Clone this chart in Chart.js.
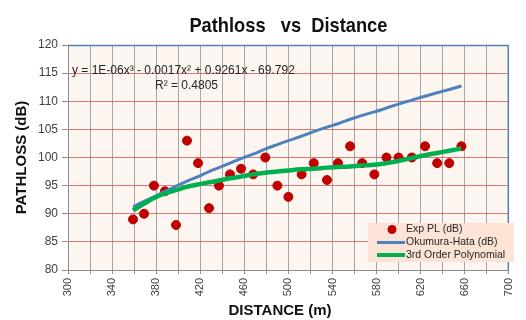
<!DOCTYPE html>
<html>
<head>
<meta charset="utf-8">
<script src="https://cdn.jsdelivr.net/npm/chart.js@4/dist/chart.umd.min.js"></script>
<style>
html,body{margin:0;padding:0;background:#fff;}
#wrap{width:526px;height:320px;position:relative;}
</style>
</head>
<body>
<div id="wrap"><canvas id="c" width="526" height="320"></canvas></div>
<script>
// Distance (m) of each measurement
const distances = [359, 369, 378, 388, 398, 408, 418, 428, 437, 447, 457, 468, 479, 490, 500, 512, 523, 535, 545, 556, 567, 578, 589, 600, 612, 624, 635, 646, 657];
// Measured path loss (dB)
const expPL = [89, 90, 95, 94, 88, 103, 99, 91, 95, 97, 98, 97, 100, 95, 93, 97, 99, 96, 99, 102, 99, 97, 100, 100, 100, 102, 99, 99, 102];
// Okumura-Hata model (dB)
const okumuraHata = [91.2, 92.2, 93.0, 94.0, 94.9, 95.8, 96.6, 97.5, 98.2, 99.0, 99.8, 100.6, 101.5, 102.3, 103.0, 103.8, 104.6, 105.4, 106.0, 106.8, 107.5, 108.1, 108.8, 109.5, 110.2, 110.9, 111.5, 112.1, 112.7];
// 3rd order polynomial trendline (dB)
const poly3 = [90.6, 91.8, 92.8, 93.6, 94.2, 94.8, 95.2, 95.6, 95.9, 96.3, 96.6, 97.0, 97.3, 97.5, 97.7, 97.9, 98.0, 98.2, 98.3, 98.4, 98.6, 98.7, 99.0, 99.4, 99.9, 100.4, 100.8, 101.2, 101.6];
// Axis settings
const xTickValues = [300, 340, 380, 420, 460, 500, 540, 580, 620, 660, 700];
const yTickValues = [80, 85, 90, 95, 100, 105, 110, 115, 120];
const seriesNames = ['Exp PL (dB)', 'Okumura-Hata (dB)', '3rd Order Polynomial'];
const titleText = 'Pathloss   vs  Distance';
const xTitle = 'DISTANCE (m)';
const yTitle = 'PATHLOSS (dB)';
const equationText = 'y = 1E-06x\u00B3 - 0.0017x\u00B2 + 0.9261x - 69.792';
const r2Text = 'R\u00B2 = 0.4805';

const FONT = "'Liberation Sans', Arial, sans-serif";
const RED = '#c00000', BLUE = '#4f81bd', GREEN = '#00b050';

const toPts = (ys) => distances.map((d, i) => ({x: d, y: ys[i]}));

const decor = {
  id: 'decor',
  beforeDraw(chart) {
    const {ctx, chartArea: a} = chart;
    ctx.save();
    ctx.fillStyle = '#fdf5ef';
    ctx.fillRect(a.left, a.top, a.right - a.left, a.bottom - a.top);
    ctx.restore();
  },
  afterDatasetsDraw(chart) {
    const {ctx, chartArea: a} = chart;
    ctx.save();
    // plot border top/right
    ctx.strokeStyle = BLUE;
    ctx.lineWidth = 1.5;
    ctx.beginPath();
    ctx.moveTo(a.left, a.top + 0.5);
    ctx.lineTo(a.right - 0.5, a.top + 0.5);
    ctx.lineTo(a.right - 0.5, a.bottom);
    ctx.stroke();
    // chart title, centred over the plot area (slightly condensed like the original)
    ctx.save();
    ctx.fillStyle = '#111';
    ctx.font = 'bold 21px ' + FONT;
    ctx.textAlign = 'center';
    ctx.textBaseline = 'middle';
    ctx.translate((a.left + a.right) / 2, 26);
    ctx.scale(0.87, 1);
    ctx.fillText(titleText, 0, 0);
    ctx.restore();
    // equation
    ctx.fillStyle = '#262626';
    ctx.font = '12px ' + FONT;
    ctx.textBaseline = 'middle';
    ctx.textAlign = 'left';
    ctx.fillText(equationText, 72, 71);
    ctx.fillText(r2Text, 155, 86);
    // legend
    const lx = 368, ly = 223, lw = 146, lh = 39;
    ctx.fillStyle = '#fbe4d5';
    ctx.fillRect(lx, ly, lw, lh);
    ctx.fillStyle = RED;
    ctx.beginPath();
    ctx.arc(392, 229.5, 4.5, 0, Math.PI * 2);
    ctx.fill();
    ctx.lineWidth = 3;
    ctx.strokeStyle = BLUE;
    ctx.beginPath(); ctx.moveTo(377, 242.5); ctx.lineTo(405, 242.5); ctx.stroke();
    ctx.lineWidth = 4;
    ctx.strokeStyle = GREEN;
    ctx.beginPath(); ctx.moveTo(377, 255); ctx.lineTo(405, 255); ctx.stroke();
    ctx.fillStyle = '#262626';
    ctx.font = '10.5px ' + FONT;
    ctx.fillText(seriesNames[0], 406, 229.5);
    ctx.fillText(seriesNames[1], 406, 242.5);
    ctx.fillText(seriesNames[2], 406, 255.5);
    ctx.restore();
  }
};

new Chart(document.getElementById('c'), {
  type: 'scatter',
  data: {
    datasets: [
      {label: seriesNames[0], data: toPts(expPL), backgroundColor: RED, borderColor: RED,
       pointRadius: 4.5, pointHoverRadius: 4.5, showLine: false, order: 3},
      {label: seriesNames[1], data: toPts(okumuraHata), borderColor: BLUE, backgroundColor: BLUE,
       borderWidth: 3, pointRadius: 0, showLine: true, tension: 0.4, order: 2},
      {label: seriesNames[2], data: toPts(poly3), borderColor: GREEN, backgroundColor: GREEN,
       borderWidth: 4.5, pointRadius: 0, showLine: true, tension: 0.4, order: 1}
    ]
  },
  options: {
    responsive: false,
    animation: false,
    events: [],
    layout: {padding: {left: 0, right: 9, top: 45, bottom: 0}},
    plugins: {
      legend: {display: false},
      tooltip: {enabled: false},
      title: {display: false}
    },
    scales: {
      x: {
        type: 'linear', min: 300, max: 700,
        afterFit(s) { s.height = 50; },
        afterBuildTicks(s) {
          const t = [];
          for (let v = 300; v <= 700; v += 20) t.push({value: v});
          s.ticks = t;
        },
        ticks: {
          minRotation: 90, maxRotation: 90, padding: 4, color: '#404040',
          font: {family: FONT, size: 11},
          callback: (v) => xTickValues.includes(v) ? String(v) : ''
        },
        grid: {color: '#a6a6a6', tickColor: '#8c8c8c', tickLength: 4, lineWidth: 1},
        border: {color: '#8c8c8c', width: 1},
        title: {
          display: true, text: xTitle + '    ', color: '#111',
          font: {family: FONT, size: 15, weight: 'bold'},
          padding: {top: 0, bottom: 0}
        }
      },
      y: {
        min: 80, max: 120,
        afterFit(s) { s.width = 68; },
        afterBuildTicks(s) { s.ticks = yTickValues.map(v => ({value: v})); },
        ticks: {padding: 4, color: '#404040', font: {family: FONT, size: 12}},
        grid: {color: 'rgba(205,80,80,0.75)', tickColor: '#8c8c8c', tickLength: 6, lineWidth: 1},
        border: {color: '#8c8c8c', width: 1},
        title: {
          display: true, text: yTitle, color: '#111',
          font: {family: FONT, size: 15, weight: 'bold'},
          padding: {top: 13, bottom: 0}
        }
      }
    }
  },
  plugins: [decor]
});
</script>
</body>
</html>
